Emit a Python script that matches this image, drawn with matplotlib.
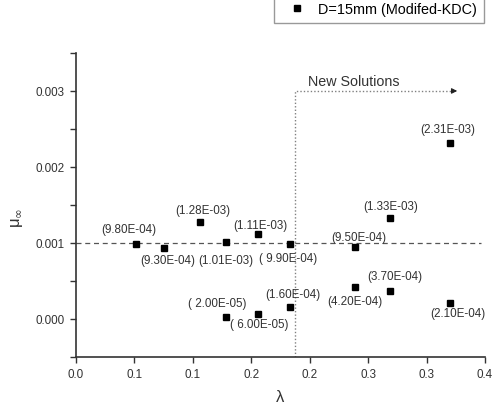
import matplotlib
matplotlib.use("Agg")
import matplotlib.pyplot as plt
from matplotlib.ticker import MultipleLocator, FormatStrFormatter

plt.rcParams['font.family'] = ['Liberation Sans', 'DejaVu Sans']

# lambda and mu values of the computed points
lam = [0.051, 0.075, 0.106, 0.128, 0.156, 0.183, 0.239, 0.269, 0.320,
       0.128, 0.156, 0.183, 0.239, 0.269, 0.320]
mu = [9.80e-4, 9.30e-4, 1.28e-3, 1.01e-3, 1.11e-3, 9.90e-4, 9.50e-4, 1.33e-3, 2.31e-3,
      2.00e-5, 6.00e-5, 1.60e-4, 4.20e-4, 3.70e-4, 2.10e-4]
# labels written with a leading space inside the bracket
spaced = [False, False, False, False, False, True, False, False, False,
          True, True, False, False, False, False]
# label offsets in pixels
offs = [(-7, 15), (4, -12), (3, 12), (0, -18), (2, 9), (-2, -14), (3, 10), (0, 12), (-2, 14),
        (-8, 14), (1, -10), (3, 13), (0, -14), (4, 15), (8, -10)]

xticks = [0.0, 0.05, 0.10, 0.15, 0.20, 0.25, 0.30, 0.35]
xticklabels = ["0.0", "0.1", "0.1", "0.2", "0.2", "0.3", "0.3", "0.4"]

lam_split = 0.187   # boundary of the new solution region
mu_ref = 0.001

txt = '#333333'

fig = plt.figure(figsize=(4.96, 4.10), dpi=100)
ax = fig.add_axes([0.1532, 0.1276, 0.8246, 0.7407])

ax.plot(lam, mu, 's', color='black', markersize=4.2, label='D=15mm (Modifed-KDC)', zorder=3)

for x, y, sp, (dx, dy) in zip(lam, mu, spaced, offs):
    lab = "(" + (" " if sp else "") + f"{y:.2E})"
    ax.annotate(lab, (x, y), xytext=(dx, dy), textcoords='offset pixels',
                ha='center', va='center', fontsize=8.4, color=txt)

# reference level and new-solution region
ax.axhline(mu_ref, xmin=0, xmax=0.99, color='#555555', lw=0.9, ls=(0, (4, 3)), zorder=1)
ax.plot([lam_split, lam_split, 0.322], [-0.0005, 0.003, 0.003], color='#808080',
        lw=1.0, ls=(0, (1, 1.5)), zorder=1)
ax.annotate("", xy=(0.3286, 0.003), xytext=(0.321, 0.003),
            arrowprops=dict(arrowstyle='-|>', color='#222222', lw=0.8,
                            mutation_scale=8))
ax.text(0.1985, 0.00313, "New Solutions", fontsize=10.3, color=txt, va='center', ha='left')

ax.set_xlim(0, 0.35)
ax.set_ylim(-0.0005, 0.0035)
ax.set_xticks(xticks)
ax.set_xticklabels(xticklabels)
ax.yaxis.set_major_locator(MultipleLocator(0.001))
ax.yaxis.set_minor_locator(MultipleLocator(0.0005))
ax.yaxis.set_major_formatter(FormatStrFormatter('%.3f'))

for s in ['top', 'right']:
    ax.spines[s].set_visible(False)
for s in ['left', 'bottom']:
    ax.spines[s].set_color('#333333')
    ax.spines[s].set_linewidth(1.2)

ax.tick_params(which='both', direction='out', length=4, width=1, color='#333333',
               labelsize=8.4, labelcolor=txt, pad=4)

ax.set_xlabel("λ", fontsize=12, color=txt)
ax.set_ylabel(r"μ$_{\infty}$", fontsize=12, color=txt)
ax.xaxis.set_label_coords(0.5, -0.105)
ax.yaxis.set_label_coords(-0.125, 0.46)

fig.legend(loc='lower right', bbox_to_anchor=(0.976, 0.942), fancybox=False,
           edgecolor='#999999', fontsize=10.4, handlelength=2.2, handletextpad=0.36,
           borderpad=0.5, borderaxespad=0, framealpha=1)

fig.savefig("out.png", dpi=100)
